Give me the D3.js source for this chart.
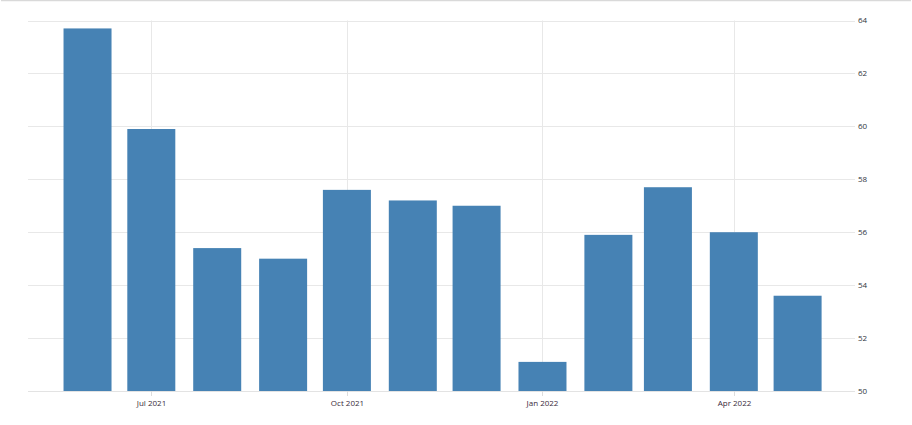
<!DOCTYPE html>
<html>
<head>
<meta charset="utf-8">
<script src="https://cdn.jsdelivr.net/npm/d3@7"></script>
<style>
  body { margin: 0; background: #fff; }
  svg { display: block; font-family: "Open Sans", sans-serif; }
</style>
</head>
<body>
<div id="chart"></div>
<script>
// monthly values, Jun 2021 .. May 2022
var months = ["2021-06", "2021-07", "2021-08", "2021-09", "2021-10", "2021-11",
              "2021-12", "2022-01", "2022-02", "2022-03", "2022-04", "2022-05"];
var values = [63.7, 59.9, 55.4, 55.0, 57.6, 57.2, 57.0, 51.1, 55.9, 57.7, 56.0, 53.6];
var yTicks = [50, 52, 54, 56, 58, 60, 62, 64];
var xTicks = ["2021-07", "2021-10", "2022-01", "2022-04"];

var w = 912, h = 425;
var plotLeft = 28, plotRight = 855, plotTop = 20.5, plotBottom = 391;
var parse = d3.timeParse("%Y-%m");

var svg = d3.select("#chart").append("svg")
    .attr("width", w)
    .attr("height", h);

// top border line
svg.append("line")
    .attr("x1", 1).attr("x2", w - 1)
    .attr("y1", 0.5).attr("y2", 0.5)
    .attr("stroke", "#d9d9d9").attr("stroke-width", 1.5);

var x = d3.scaleTime()
    .domain([new Date(2021, 4, 4), new Date(2022, 4, 28)])
    .range([plotLeft, plotRight]);
var y = d3.scaleLinear()
    .domain([50, 64])
    .range([plotBottom, plotTop]);

// grid
svg.append("g").selectAll("line")
    .data(yTicks)
  .enter().append("line")
    .attr("x1", plotLeft).attr("x2", plotRight)
    .attr("y1", function(d) { return Math.round(y(d)) + 0.5; })
    .attr("y2", function(d) { return Math.round(y(d)) + 0.5; })
    .attr("stroke", "#e8e8e8");
svg.append("g").selectAll("line")
    .data(xTicks)
  .enter().append("line")
    .attr("x1", function(d) { return Math.round(x(parse(d))) + 0.5; })
    .attr("x2", function(d) { return Math.round(x(parse(d))) + 0.5; })
    .attr("y1", plotTop).attr("y2", plotBottom)
    .attr("stroke", "#e8e8e8");

// bars
var bw = 48;
svg.append("g").selectAll("rect")
    .data(values)
  .enter().append("rect")
    .attr("x", function(d, i) { return x(parse(months[i])) - bw / 2; })
    .attr("y", function(d) { return y(d); })
    .attr("width", bw)
    .attr("height", function(d) { return y(50) - y(d); })
    .attr("fill", "#4682b4");

// x axis
svg.append("line")
    .attr("x1", plotLeft).attr("x2", plotRight)
    .attr("y1", plotBottom + 0.5).attr("y2", plotBottom + 0.5)
    .attr("stroke", "#e3e3e3");
var xg = svg.append("g").selectAll("g")
    .data(xTicks)
  .enter().append("g")
    .attr("transform", function(d) { return "translate(" + (Math.round(x(parse(d))) + 0.5) + ",0)"; });
xg.append("line")
    .attr("y1", plotBottom).attr("y2", plotBottom + 5)
    .attr("stroke", "#ddd");
xg.append("text")
    .attr("y", 406)
    .attr("text-anchor", "middle")
    .attr("font-size", "8px")
    .attr("fill", "#3a2a3a")
    .text(function(d) { return d3.timeFormat("%b %Y")(parse(d)); });

// y labels on the right
svg.append("g").selectAll("text")
    .data(yTicks)
  .enter().append("text")
    .attr("x", 858)
    .attr("y", function(d) { return y(d); })
    .attr("dy", "0.35em")
    .attr("font-size", "8px")
    .attr("fill", "#2d3440")
    .text(function(d) { return d; });
</script>
</body>
</html>
